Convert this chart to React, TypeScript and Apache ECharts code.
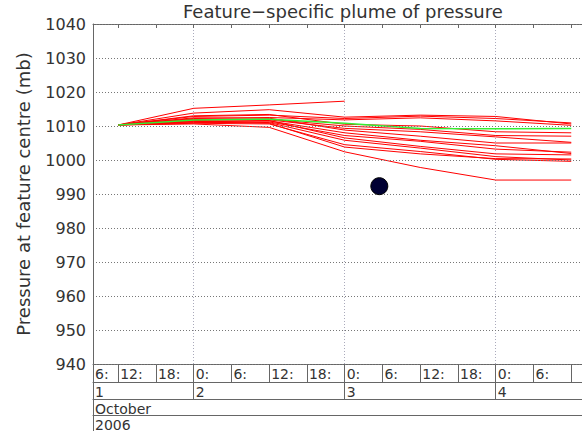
import React, { useEffect, useRef } from 'react';
import * as echarts from 'echarts';

// forecast step times, hours since 1 Oct 2006 00:00
const stepHours = [12, 24, 36, 48, 60, 72, 84];

// ensemble members (mb)
const redMembers: number[][] = [
  [1010.3, 1015.2, 1016.2, 1017.3],
  [1010.3, 1013.8, 1014.8, 1012.6, 1013.2, 1012.8, 1010.6],
  [1010.3, 1012.8, 1013.2, 1012.2, 1012.9, 1012.2, 1010.9],
  [1010.3, 1012.2, 1012.5, 1011.8, 1012.4, 1011.5, 1010.2],
  [1010.3, 1011.6, 1012.0, 1010.0, 1009.0, 1007.2, 1007.0],
  [1010.3, 1011.9, 1011.8, 1009.3, 1008.3, 1006.8, 1005.2],
  [1010.3, 1012.4, 1012.3, 1008.8, 1007.0, 1005.0, 1005.0],
  [1010.3, 1011.3, 1011.5, 1008.0, 1005.8, 1004.2, 1001.9],
  [1010.3, 1011.0, 1011.2, 1007.2, 1005.5, 1003.2, 1002.3],
  [1010.3, 1012.0, 1011.6, 1006.5, 1004.0, 1001.8, 1001.5],
  [1010.3, 1011.5, 1011.0, 1005.8, 1003.5, 1001.0, 1000.0],
  [1010.3, 1010.8, 1010.6, 1004.5, 1002.5, 1000.2, 999.6],
  [1010.3, 1011.2, 1010.8, 1003.8, 1001.8, 1000.4, 1000.3],
  [1010.3, 1010.6, 1009.6, 1002.4, 997.8, 994.1, 994.1],
  [1010.3, 1013.0, 1013.4, 1010.5, 1010.0, 1008.3, 1008.0],
];

// control / analysis run (mb)
const controlRun = [1010.3, 1011.8, 1012.0, 1010.8, 1009.3, 1009.2, 1009.3];

// observed feature position [hour, mb]
const observedPoint = [53.5, 992.3];

// axis ticks
const hourTicks = [8, 12, 18, 24, 30, 36, 42, 48, 54, 60, 66, 72, 78, 84, 90];
const hourLabelTicks = [8, 12, 18, 24, 30, 36, 42, 48, 54, 60, 66, 72, 78];
const hourLabels = ['6:', '12:', '18:', '0:', '6:', '12:', '18:', '0:', '6:', '12:', '18:', '0:', '6:'];
const dayTicks = [8, 24, 48, 72];
const dayLabels = ['1', '2', '3', '4'];
const monthTicks = [8];
const monthLabels = ['October'];
const yearTicks = [8];
const yearLabels = ['2006'];

const AXIS = '#666';
const TXT = '#333';
const FONT = 'DejaVu Sans';

function rowAxis(ticks: number[], labelTicks: number[], labels: string[], offset: number, len: number, extra: any = {}) {
  return {
    type: 'value',
    position: 'bottom',
    min: 8,
    max: 90,
    offset,
    axisLine: { show: true, lineStyle: { color: AXIS, width: 1 } },
    axisTick: { show: true, customValues: ticks, length: len, inside: false, lineStyle: { color: AXIS } },
    axisLabel: {
      show: true,
      customValues: labelTicks,
      formatter: (v: number) => labels[labelTicks.indexOf(v)] ?? '',
      align: 'left',
      verticalAlign: 'top',
      margin: 3,
      padding: [0, 0, 0, 2],
      fontSize: 14,
      color: TXT,
      fontFamily: FONT,
    },
    splitLine: { show: false },
    ...extra,
  };
}

export default function App() {
  const ref = useRef<HTMLDivElement>(null);
  useEffect(() => {
    const chart = echarts.init(ref.current!, null, { renderer: 'svg' });
    const series: any[] = redMembers.map((m, i) => ({
      type: 'line',
      name: 'member' + i,
      data: m.map((v, j) => [stepHours[j], v]),
      symbol: 'none',
      lineStyle: { color: '#ff0000', width: 1 },
      silent: true,
    }));
    series.push({
      type: 'line',
      name: 'control',
      data: controlRun.map((v, j) => [stepHours[j], v]),
      symbol: 'none',
      lineStyle: { color: '#33ee33', width: 1.5 },
      z: 3,
    });
    series.push({
      type: 'scatter',
      data: [observedPoint],
      symbolSize: 17,
      itemStyle: { color: '#000033', borderColor: '#000', borderWidth: 1, opacity: 1 },
      z: 6,
    });
    chart.setOption({
      animation: false,
      textStyle: { fontFamily: FONT },
      title: {
        text: 'Feature\u2212specific plume of pressure',
        left: 183,
        top: 2,
        padding: 0,
        textStyle: { fontSize: 18, fontWeight: 'normal', color: TXT, fontFamily: FONT },
      },
      grid: { left: 93, top: 24, bottom: 68, right: -27, containLabel: false, outerBoundsMode: 'none' },
      xAxis: [
        rowAxis(hourTicks, hourLabelTicks, hourLabels, 0, 18),
        rowAxis(dayTicks, dayTicks, dayLabels, 18, 17, {
          splitLine: { show: true, lineStyle: { color: '#aab', type: [1, 2], width: 1 } },
        }),
        rowAxis(monthTicks, monthTicks, monthLabels, 35, 16),
        rowAxis(yearTicks, yearTicks, yearLabels, 51, 16),
        {
          type: 'value',
          position: 'top',
          min: 8,
          max: 90,
          axisLine: { show: true, lineStyle: { color: AXIS } },
          axisTick: { show: true, customValues: hourTicks, inside: true, length: 4, lineStyle: { color: AXIS } },
          axisLabel: { show: false },
          splitLine: { show: false },
        },
      ],
      yAxis: {
        type: 'value',
        min: 940,
        max: 1040,
        interval: 10,
        z: 5,
        name: 'Pressure at feature centre (mb)',
        nameLocation: 'middle',
        nameGap: 61,
        nameTextStyle: { fontSize: 18, color: TXT, fontFamily: FONT },
        axisLine: { show: true, lineStyle: { color: AXIS } },
        axisTick: { show: false },
        axisLabel: { fontSize: 16, color: TXT, margin: 7, fontFamily: FONT, formatter: (v: number) => String(v) },
        splitLine: { show: true, lineStyle: { color: '#777', type: [1, 2], width: 1 } },
      },
      series,
    });
    return () => chart.dispose();
  }, []);
  return <div ref={ref} style={{ position: 'fixed', left: 0, top: 0, width: 582, height: 432, background: '#fff' }} />;
}
